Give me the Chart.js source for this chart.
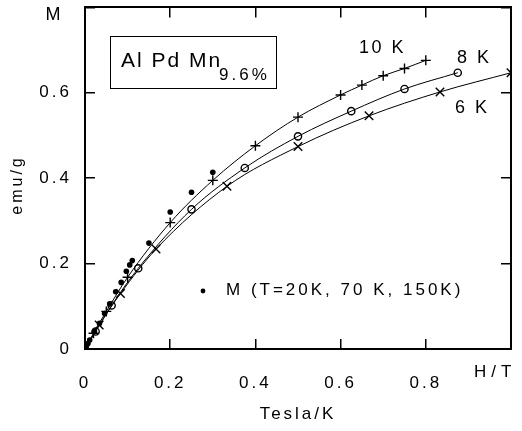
<!DOCTYPE html>
<html>
<head>
<meta charset="utf-8">
<title>Al Pd Mn 9.6% magnetization</title>
<script src="https://cdn.jsdelivr.net/npm/chart.js@4.4.1/dist/chart.umd.min.js"></script>
<style>
  html, body { margin: 0; padding: 0; background: #fff; }
  #magChart { display: block; }
</style>
</head>
<body>
<canvas id="magChart" width="522" height="431"></canvas>
<script>
// Magnetization versus H/T (Tesla/K) for the three low temperatures
const hT10K = [0, 0.02, 0.05, 0.1, 0.2, 0.3, 0.4, 0.5, 0.6, 0.65, 0.7, 0.75, 0.8];
const m10K  = [0, 0.037, 0.088, 0.168, 0.296, 0.395, 0.476, 0.543, 0.595, 0.618, 0.640, 0.657, 0.676];

const hT8K = [0, 0.025, 0.0625, 0.125, 0.25, 0.375, 0.5, 0.625, 0.75, 0.875];
const m8K  = [0, 0.041, 0.102, 0.189, 0.327, 0.424, 0.498, 0.557, 0.609, 0.647];

const hT6K = [0, 0.0333, 0.0833, 0.1667, 0.3333, 0.5, 0.6667, 0.8333, 1.0];
const m6K  = [0, 0.056, 0.130, 0.234, 0.381, 0.474, 0.546, 0.602, 0.647];

// points measured at 20 K, 70 K and 150 K
const hTHigh = [0.3, 0.25, 0.2, 0.15, 0.111, 0.105, 0.097, 0.085, 0.072, 0.058, 0.046, 0.034, 0.022, 0.011, 0.007, 0.003, 0.001];
const mHigh  = [0.414, 0.367, 0.321, 0.248, 0.207, 0.197, 0.182, 0.156, 0.134, 0.106, 0.083, 0.060, 0.041, 0.021, 0.013, 0.006, 0.002];

// labelled ticks
const xTickLabels = [0, 0.2, 0.4, 0.6, 0.8];
const yTickLabels = [0, 0.2, 0.4, 0.6];

const ink = '#000';
const fontFamily = '"Liberation Sans", Arial, Helvetica, sans-serif';

Chart.defaults.font.family = fontFamily;
Chart.defaults.color = ink;

const toPoints = (xs, ys) => xs.map((x, i) => ({ x: x, y: ys[i] }));

function tickLabel(list) {
    return v => list.some(t => Math.abs(t - v) < 1e-6) ? (v === 0 ? '0' : v.toFixed(1)) : '';
}

// fixed axis band; label padding must not push the frame inwards
function fixSize(prop, size) {
    return s => {
        s[prop] = size;
        s.paddingLeft = s.paddingRight = s.paddingTop = s.paddingBottom = 0;
    };
}

function curve(label, data, style, radius) {
    return {
        label: label,
        data: data,
        showLine: true,
        borderColor: ink,
        borderWidth: 1,
        cubicInterpolationMode: 'monotone',
        pointStyle: style,
        // the curve starts at the origin without a marker
        pointRadius: ctx => ctx.dataIndex === 0 ? 0 : radius,
        pointBorderWidth: 1.4,
        pointBorderColor: ink,
        pointBackgroundColor: 'rgba(0,0,0,0)'
    };
}

// frame ticks point into the plot
function frameGrid() {
    return {
        drawOnChartArea: false,
        drawTicks: true,
        tickLength: -10,
        color: ink,
        lineWidth: 1.5
    };
}
const frameBorder = { display: true, color: ink, width: 2 };

// Text drawn over the plot: box, curve labels, axis names
const annotations = {
    id: 'annotations',
    beforeDraw(chart) {
        chart.ctx.letterSpacing = '3px';
    },
    afterDraw(chart) {
        const ctx = chart.ctx;
        ctx.save();
        ctx.fillStyle = ink;
        ctx.strokeStyle = ink;

        // sample name box
        ctx.lineWidth = 1;
        ctx.strokeRect(110.5, 36.5, 166, 52);
        ctx.textAlign = 'left';
        ctx.textBaseline = 'alphabetic';
        ctx.letterSpacing = '2px';
        ctx.font = '21px ' + fontFamily;
        ctx.fillText('Al Pd Mn', 121, 66.5);
        ctx.letterSpacing = '3px';
        ctx.font = '17px ' + fontFamily;
        ctx.fillText('9.6%', 219, 79.5);

        // temperatures next to the curves
        ctx.letterSpacing = '2.5px';
        ctx.font = '18px ' + fontFamily;
        ctx.fillText('10 K', 359, 52.5);
        ctx.fillText('8 K', 457, 62.5);
        ctx.fillText('6 K', 455, 112.5);

        // key for the dots
        ctx.beginPath();
        ctx.arc(203, 291, 2.4, 0, Math.PI * 2);
        ctx.fill();
        ctx.letterSpacing = '3px';
        ctx.font = '17px ' + fontFamily;
        ctx.fillText('M (T=20K, 70 K, 150K)', 226, 294.5);

        // axis names
        ctx.letterSpacing = '0px';
        ctx.font = '18px ' + fontFamily;
        ctx.textAlign = 'center';
        ctx.textBaseline = 'middle';
        ctx.fillText('M', 53, 15);

        ctx.letterSpacing = '5px';
        ctx.font = '17px ' + fontFamily;
        ctx.textAlign = 'left';
        ctx.fillText('H/T', 474, 372);

        ctx.letterSpacing = '3px';
        ctx.font = '16px ' + fontFamily;
        ctx.translate(18, 185);
        ctx.rotate(-Math.PI / 2);
        ctx.textAlign = 'center';
        ctx.fillText('emu/g', 0, 0);

        ctx.restore();
    }
};

const chart = new Chart(document.getElementById('magChart').getContext('2d'), {
    type: 'scatter',
    data: {
        datasets: [
            {
                label: 'M (T=20K, 70 K, 150K)',
                data: toPoints(hTHigh, mHigh),
                showLine: false,
                pointStyle: 'circle',
                pointRadius: 2.8,
                pointBorderWidth: 0,
                pointBackgroundColor: ink
            },
            curve('10 K', toPoints(hT10K, m10K), 'cross', 5),
            curve('8 K', toPoints(hT8K, m8K), 'circle', 3.6),
            curve('6 K', toPoints(hT6K, m6K), 'crossRot', 6)
        ]
    },
    options: {
        responsive: false,
        animation: false,
        layout: { padding: 0 },
        plugins: {
            legend: { display: false },
            tooltip: { enabled: false }
        },
        scales: {
            x: {
                type: 'linear',
                position: 'bottom',
                min: 0,
                max: 1,
                afterFit: fixSize('height', 82),
                ticks: {
                    stepSize: 0.2,
                    padding: 34,
                    maxRotation: 0,
                    font: { size: 17 },
                    callback: tickLabel(xTickLabels)
                },
                grid: frameGrid(),
                border: frameBorder,
                title: {
                    display: true,
                    text: 'Tesla/K',
                    font: { size: 17 },
                    padding: { top: 0, bottom: 6 }
                }
            },
            xTop: {
                type: 'linear',
                position: 'top',
                min: 0,
                max: 1,
                afterFit: fixSize('height', 5),
                ticks: { stepSize: 0.2, display: false },
                grid: frameGrid(),
                border: frameBorder
            },
            y: {
                type: 'linear',
                position: 'left',
                min: 0,
                max: 0.8,
                afterFit: fixSize('width', 85),
                ticks: {
                    stepSize: 0.2,
                    padding: 23,
                    font: { size: 17 },
                    callback: tickLabel(yTickLabels)
                },
                grid: frameGrid(),
                border: frameBorder
            },
            yRight: {
                type: 'linear',
                position: 'right',
                min: 0,
                max: 0.8,
                afterFit: fixSize('width', 11),
                ticks: { stepSize: 0.2, display: false },
                grid: frameGrid(),
                border: frameBorder
            }
        }
    },
    plugins: [annotations]
});
</script>
</body>
</html>
